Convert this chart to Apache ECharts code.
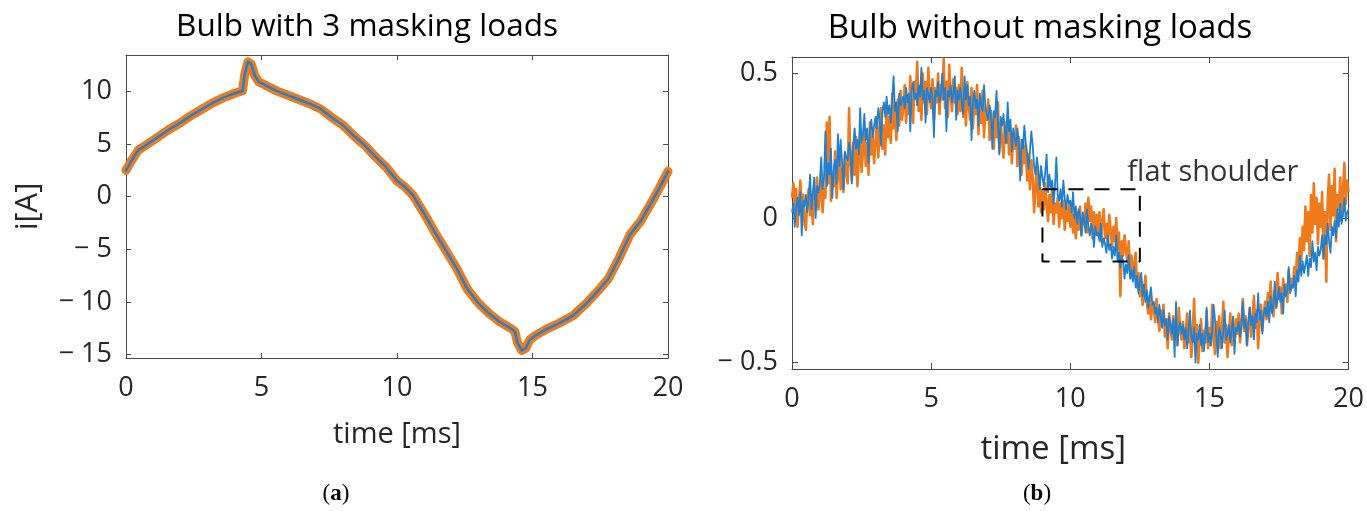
<!DOCTYPE html>
<html>
<head>
<meta charset="utf-8">
<script src="https://cdn.jsdelivr.net/npm/echarts@6/dist/echarts.min.js"></script>
<style>
html,body{margin:0;padding:0;background:#fff;}
#chart{width:1367px;height:511px;}
</style>
</head>
<body>
<div id="chart"></div>
<script>
// ---------- DATA ----------
// Panel (a): bulb with 3 masking loads
const leftTime = [0, 0.2, 0.45, 0.8, 1.2, 1.6, 2.0, 2.4, 2.8, 3.2, 3.6, 4.0, 4.3, 4.38, 4.5, 4.62, 4.75, 4.9, 5.2, 5.6, 6.0, 6.4, 6.8, 7.2, 7.6, 8.0, 8.4, 8.8, 9.2, 9.6, 10.0, 10.3, 10.6, 11.0, 11.4, 11.8, 12.2, 12.6, 13.0, 13.4, 13.8, 14.2, 14.35, 14.45, 14.6, 14.75, 14.9, 15.1, 15.5, 16.0, 16.5, 17.0, 17.4, 17.8, 18.2, 18.6, 19.0, 19.4, 19.7, 20.0];
const leftCurrent = [2.5, 3.4, 4.4, 5.0, 5.7, 6.4, 7.0, 7.7, 8.3, 8.9, 9.4, 9.8, 10.05, 11.6, 12.8, 12.6, 11.5, 10.9, 10.5, 10.0, 9.6, 9.2, 8.8, 8.3, 7.5, 6.8, 5.8, 4.9, 3.8, 2.8, 1.5, 0.9, 0.1, -1.6, -3.4, -5.1, -6.8, -8.8, -10.1, -11.1, -11.9, -12.5, -12.8, -13.9, -14.6, -14.4, -13.6, -13.2, -12.6, -12.0, -11.3, -10.1, -9.0, -7.8, -5.8, -3.6, -2.3, -0.5, 0.9, 2.4];

// Panel (b): bulb without masking loads, one sample every 0.05 ms from 0 to 20 ms
const rightSampleStepMs = 0.05;
const rightBlue = [
 0.02, 0.05, -0.03, 0.04, 0.07, 0.01, 0.09, -0.06, 0.06, 0.04,
 0.08, 0.02, 0.07, 0.15, 0.03, 0.09, 0.14, 0.00, 0.11, 0.09,
 0.12, 0.21, 0.10, 0.14, 0.30, 0.11, 0.19, 0.15, 0.24, 0.07,
 0.17, 0.20, 0.12, 0.29, 0.18, 0.27, 0.19, 0.10, 0.23, 0.21,
 0.20, 0.26, 0.23, 0.12, 0.25, 0.31, 0.24, 0.27, 0.22, 0.38,
 0.26, 0.29, 0.36, 0.27, 0.31, 0.19, 0.30, 0.34, 0.28, 0.32,
 0.35, 0.31, 0.38, 0.34, 0.25, 0.37, 0.40, 0.35, 0.42, 0.36,
 0.39, 0.33, 0.41, 0.49, 0.37, 0.40, 0.30, 0.43, 0.39, 0.41,
 0.42, 0.38, 0.45, 0.40, 0.43, 0.30, 0.44, 0.47, 0.41, 0.43,
 0.39, 0.46, 0.42, 0.52, 0.41, 0.44, 0.33, 0.45, 0.43, 0.40,
 0.45, 0.41, 0.28, 0.44, 0.42, 0.47, 0.40, 0.43, 0.50, 0.41,
 0.45, 0.30, 0.44, 0.42, 0.46, 0.40, 0.43, 0.49, 0.34, 0.44,
 0.41, 0.45, 0.40, 0.36, 0.49, 0.41, 0.46, 0.39, 0.42, 0.27,
 0.40, 0.44, 0.38, 0.41, 0.32, 0.43, 0.39, 0.37, 0.46, 0.38,
 0.38, 0.34, 0.39, 0.36, 0.24, 0.37, 0.35, 0.44, 0.33, 0.22,
 0.35, 0.32, 0.36, 0.30, 0.26, 0.40, 0.30, 0.34, 0.23, 0.31,
 0.28, 0.25, 0.31, 0.26, 0.13, 0.27, 0.24, 0.32, 0.26, 0.22,
 0.17, 0.23, 0.30, 0.25, 0.18, 0.15, 0.21, 0.17, 0.10, 0.18,
 0.14, 0.11, 0.16, 0.22, 0.09, 0.15, 0.10, 0.13, 0.05, 0.11,
 0.21, 0.08, 0.06, 0.10, 0.04, 0.13, 0.07, 0.03, 0.08, 0.05,
 0.06, 0.02, 0.09, 0.00, 0.04, -0.02, 0.03, 0.01, -0.06, 0.02,
 -0.01, -0.05, 0.03, -0.03, -0.06, -0.02, -0.04, -0.10, -0.03, -0.06,
 -0.05, -0.08, -0.02, -0.10, -0.07, -0.09, -0.12, -0.06, -0.11, -0.09,
 -0.14, -0.10, -0.13, -0.06, -0.15, -0.12, -0.17, -0.13, -0.15, -0.21,
 -0.16, -0.19, -0.13, -0.21, -0.18, -0.22, -0.17, -0.24, -0.20, -0.26,
 -0.22, -0.19, -0.27, -0.23, -0.29, -0.25, -0.31, -0.27, -0.24, -0.30,
 -0.29, -0.33, -0.31, -0.36, -0.30, -0.34, -0.38, -0.32, -0.37, -0.35,
 -0.42, -0.34, -0.37, -0.40, -0.35, -0.48, -0.29, -0.44, -0.38, -0.36,
 -0.40, -0.37, -0.42, -0.38, -0.45, -0.39, -0.32, -0.41, -0.43, -0.38,
 -0.50, -0.40, -0.42, -0.37, -0.44, -0.40, -0.46, -0.41, -0.31, -0.43,
 -0.40, -0.44, -0.39, -0.30, -0.35, -0.41, -0.48, -0.38, -0.40, -0.45,
 -0.39, -0.32, -0.42, -0.40, -0.37, -0.43, -0.39, -0.34, -0.47, -0.38,
 -0.39, -0.36, -0.41, -0.37, -0.29, -0.38, -0.35, -0.44, -0.36, -0.31,
 -0.37, -0.34, -0.42, -0.33, -0.36, -0.26, -0.35, -0.32, -0.40, -0.33,
 -0.31, -0.34, -0.29, -0.36, -0.27, -0.33, -0.30, -0.22, -0.31, -0.28,
 -0.24, -0.29, -0.26, -0.33, -0.23, -0.27, -0.25, -0.17, -0.26, -0.23,
 -0.24, -0.20, -0.27, -0.18, -0.22, -0.13, -0.20, -0.15, -0.19, -0.16,
 -0.13, -0.20, -0.14, -0.17, -0.08, -0.15, -0.12, -0.18, -0.10, -0.13,
 -0.11, -0.06, -0.14, -0.06, -0.09, -0.02, -0.08, -0.12, -0.03, -0.06,
 -0.01, -0.07, 0.03, -0.03, 0.05, -0.02, 0.01, 0.07, -0.01, 0.02,
 0.03];
const rightOrange = [
 0.07, 0.12, 0.03, 0.10, -0.03, 0.06, 0.13, 0.02, 0.08, -0.02,
 -0.04, 0.07, 0.10, 0.01, 0.06, -0.02, 0.09, 0.05, 0.14, 0.03,
 0.08, 0.13, 0.02, 0.10, 0.07, 0.33, 0.12, 0.35, 0.06, 0.14,
 0.11, 0.23, 0.07, 0.15, 0.24, 0.10, 0.17, 0.09, 0.22, 0.16,
 0.12, 0.38, 0.19, 0.13, 0.26, 0.15, 0.28, 0.11, 0.20, 0.29,
 0.16, 0.23, 0.31, 0.18, 0.26, 0.15, 0.33, 0.22, 0.28, 0.19,
 0.26, 0.35, 0.21, 0.30, 0.38, 0.24, 0.32, 0.22, 0.40, 0.28,
 0.35, 0.26, 0.43, 0.31, 0.37, 0.27, 0.41, 0.32, 0.44, 0.34,
 0.38, 0.46, 0.33, 0.41, 0.36, 0.49, 0.38, 0.33, 0.47, 0.42,
 0.54, 0.37, 0.44, 0.34, 0.50, 0.40, 0.47, 0.36, 0.52, 0.42,
 0.38, 0.48, 0.34, 0.45, 0.40, 0.50, 0.36, 0.46, 0.41, 0.55,
 0.38, 0.47, 0.35, 0.53, 0.42, 0.37, 0.48, 0.40, 0.45, 0.36,
 0.46, 0.37, 0.52, 0.35, 0.44, 0.32, 0.47, 0.39, 0.34, 0.45,
 0.31, 0.42, 0.36, 0.46, 0.29, 0.40, 0.33, 0.44, 0.28, 0.38,
 0.34, 0.41, 0.27, 0.37, 0.31, 0.24, 0.36, 0.28, 0.40, 0.23,
 0.33, 0.27, 0.21, 0.33, 0.26, 0.36, 0.22, 0.30, 0.19, 0.28,
 0.24, 0.32, 0.18, 0.28, 0.21, 0.15, 0.27, 0.19, 0.25, 0.13,
 0.22, 0.10, 0.20, 0.14, 0.02, 0.11, 0.18, 0.04, 0.12, 0.02,
 0.09, 0.03, 0.12, 0.05, -0.01, 0.08, 0.02, 0.11, -0.02, 0.05,
 0.02, 0.07, -0.03, 0.05, 0.00, 0.06, -0.04, 0.03, -0.01, 0.05,
 -0.03, 0.03, -0.05, 0.01, -0.07, 0.02, -0.04, 0.04, -0.06, 0.00,
 -0.02, 0.05, -0.05, 0.07, -0.01, 0.04, -0.07, 0.02, -0.04, 0.01,
 -0.06, 0.02, -0.08, -0.01, 0.03, -0.07, -0.02, -0.09, 0.01, -0.04,
 -0.10, -0.03, -0.08, 0.00, -0.11, -0.05, -0.27, -0.08, -0.13, -0.06,
 -0.11, -0.15, -0.08, -0.18, -0.13, -0.21, -0.16, -0.12, -0.24, -0.19,
 -0.27, -0.22, -0.30, -0.25, -0.20, -0.29, -0.33, -0.27, -0.35, -0.30,
 -0.31, -0.36, -0.28, -0.34, -0.39, -0.32, -0.37, -0.30, -0.41, -0.35,
 -0.45, -0.33, -0.38, -0.42, -0.34, -0.40, -0.36, -0.44, -0.31, -0.39,
 -0.42, -0.36, -0.45, -0.39, -0.33, -0.43, -0.38, -0.48, -0.40, -0.28,
 -0.44, -0.37, -0.50, -0.41, -0.35, -0.46, -0.39, -0.43, -0.32, -0.45,
 -0.38, -0.44, -0.30, -0.41, -0.47, -0.36, -0.42, -0.34, -0.45, -0.39,
 -0.29, -0.43, -0.37, -0.48, -0.40, -0.33, -0.44, -0.38, -0.42, -0.35,
 -0.40, -0.33, -0.43, -0.36, -0.28, -0.39, -0.34, -0.44, -0.37, -0.31,
 -0.41, -0.35, -0.27, -0.38, -0.32, -0.45, -0.36, -0.30, -0.39, -0.33,
 -0.29, -0.35, -0.26, -0.32, -0.22, -0.30, -0.34, -0.25, -0.31, -0.19,
 -0.28, -0.24, -0.33, -0.21, -0.27, -0.23, -0.29, -0.18, -0.25, -0.21,
 -0.24, -0.17, -0.22, -0.12, -0.19, -0.07, -0.15, -0.03, -0.11, 0.04,
 -0.08, 0.02, -0.13, 0.08, -0.05, 0.12, -0.02, 0.07, -0.09, 0.05,
 -0.03, 0.09, -0.14, 0.02, -0.22, 0.06, 0.15, -0.04, 0.11, 0.01,
 0.17, -0.08, 0.08, 0.03, 0.14, -0.01, 0.10, 0.19, 0.05, 0.13,
 0.09];

// annotation: dashed box corners (time ms, current A) and label anchor
const shoulderBox = [[9, 0.1], [12.5, 0.1], [12.5, -0.15], [9, -0.15], [9, 0.1]];
const shoulderLabel = [[12.05, 0.157]];

// tick values
const xTicks = [0, 5, 10, 15, 20];
const yTicksLeft = [-15, -10, -5, 0, 5, 10];
const yTicksRight = [-0.5, 0, 0.5];

// ---------- STYLE ----------
const BLUE = '#1f80d2';
const ORANGE = '#ef7a1c';
const AX = '#4a4a4a';
const TXT = '#262626';
const FONT = 'Open Sans';

function fmtNum(v) {
  if (v < 0) return '\u2212 ' + String(Math.abs(v));
  return String(v);
}

const leftData = leftTime.map((t, i) => [t, leftCurrent[i]]);
const rightBlueData = rightBlue.map((v, i) => [+(i * rightSampleStepMs).toFixed(3), v]);
const rightOrangeData = rightOrange.map((v, i) => [+(i * rightSampleStepMs).toFixed(3), v]);

function xAx(grid, pos, withLabel, tickLen, nameGap, nameStyle) {
  return {
    gridIndex: grid, type: 'value', position: pos, min: xTicks[0], max: xTicks[xTicks.length - 1], interval: xTicks[1] - xTicks[0],
    axisLine: { show: true, onZero: false, lineStyle: { color: AX, width: 1 } },
    axisTick: { show: true, inside: true, length: tickLen, lineStyle: { color: AX } },
    axisLabel: { show: withLabel, fontSize: 27, fontFamily: FONT, color: TXT, margin: 17, formatter: fmtNum },
    splitLine: { show: false },
    name: withLabel ? 'time [ms]' : '', nameLocation: 'middle', nameGap: nameGap || 0,
    nameTextStyle: Object.assign({ fontSize: 29, fontFamily: FONT, color: TXT }, nameStyle || {})
  };
}
function yAx(grid, pos, withLabel, mn, mx, ticks, tickLen, name) {
  return {
    gridIndex: grid, type: 'value', position: pos, min: mn, max: mx,
    axisLine: { show: true, onZero: false, lineStyle: { color: AX, width: 1 } },
    axisTick: { show: true, inside: true, length: tickLen, customValues: ticks, lineStyle: { color: AX } },
    axisLabel: { show: withLabel, customValues: ticks, fontSize: 27, fontFamily: FONT, color: TXT, margin: 14, formatter: fmtNum },
    splitLine: { show: false },
    name: name || '', nameLocation: 'middle', nameGap: 82, nameRotate: 90,
    nameTextStyle: { fontSize: 31, fontFamily: FONT, color: TXT }
  };
}

const option = {
  animation: false,
  backgroundColor: '#ffffff',
  title: [
    { text: 'Bulb with 3 masking loads', left: 367, top: 11, padding: 0, textAlign: 'center',
      textStyle: { fontSize: 31.5, fontWeight: 'normal', fontFamily: FONT, color: '#000' } },
    { text: 'Bulb without masking loads', left: 1040, top: 12, padding: 0, textAlign: 'center',
      textStyle: { fontSize: 33, fontWeight: 'normal', fontFamily: FONT, color: '#000' } }
  ],
  grid: [
    { left: 126, top: 55, right: 699, bottom: 153 },
    { left: 792, top: 57, right: 17, bottom: 142 }
  ],
  xAxis: [
    xAx(0, 'bottom', true, 5, 62), xAx(0, 'top', false, 5),
    xAx(1, 'bottom', true, 6, 64, { fontSize: 33, padding: [0, 34, 0, 0] }), xAx(1, 'top', false, 6)
  ],
  yAxis: [
    yAx(0, 'left', true, -15.32, 13.45, yTicksLeft, 5, 'i[A]'),
    yAx(0, 'right', false, -15.32, 13.45, yTicksLeft, 5),
    yAx(1, 'left', true, -0.522, 0.557, yTicksRight, 6),
    yAx(1, 'right', false, -0.522, 0.557, yTicksRight, 6)
  ],
  graphic: [
    { type: 'text', x: 336, y: 494, style: { text: '({b|a})', x: 0, y: 0, align: 'center', verticalAlign: 'middle',
      font: '23px "Liberation Serif"', fill: '#000', rich: { b: { fontWeight: 'bold', fontSize: 23, fontFamily: 'Liberation Serif' } } } },
    { type: 'text', x: 1037, y: 494, style: { text: '({b|b})', x: 0, y: 0, align: 'center', verticalAlign: 'middle',
      font: '23px "Liberation Serif"', fill: '#000', rich: { b: { fontWeight: 'bold', fontSize: 23, fontFamily: 'Liberation Serif' } } } }
  ],
  series: [
    { name: 'left orange', type: 'line', xAxisIndex: 0, yAxisIndex: 0, data: leftData, showSymbol: false, symbol: 'none',
      clip: false, lineStyle: { color: ORANGE, width: 9, cap: 'round', join: 'round' }, z: 2 },
    { name: 'left blue', type: 'line', xAxisIndex: 0, yAxisIndex: 0, data: leftData, showSymbol: false, symbol: 'none',
      clip: false, lineStyle: { color: BLUE, width: 2.5, cap: 'round', join: 'round' }, z: 3 },
    { name: 'right orange', type: 'line', xAxisIndex: 2, yAxisIndex: 2, data: rightOrangeData, showSymbol: false, symbol: 'none',
      lineStyle: { color: ORANGE, width: 2.6, join: 'round' }, z: 2 },
    { name: 'right blue', type: 'line', xAxisIndex: 2, yAxisIndex: 2, data: rightBlueData, showSymbol: false, symbol: 'none',
      lineStyle: { color: BLUE, width: 1.8, join: 'round' }, z: 3 },
    { name: 'box', type: 'line', xAxisIndex: 2, yAxisIndex: 2, data: shoulderBox, showSymbol: false, symbol: 'none',
      lineStyle: { color: '#000', width: 2, type: [15, 11] }, z: 4 },
    { name: 'label', type: 'scatter', xAxisIndex: 2, yAxisIndex: 2, data: shoulderLabel, symbolSize: 0,
      label: { show: true, position: 'right', distance: 0, formatter: 'flat shoulder', fontSize: 29, fontFamily: FONT, color: '#000' }, z: 5 }
  ]
};

const chart = echarts.init(document.getElementById('chart'), null, { renderer: 'canvas' });
chart.setOption(option);
</script>
</body>
</html>
